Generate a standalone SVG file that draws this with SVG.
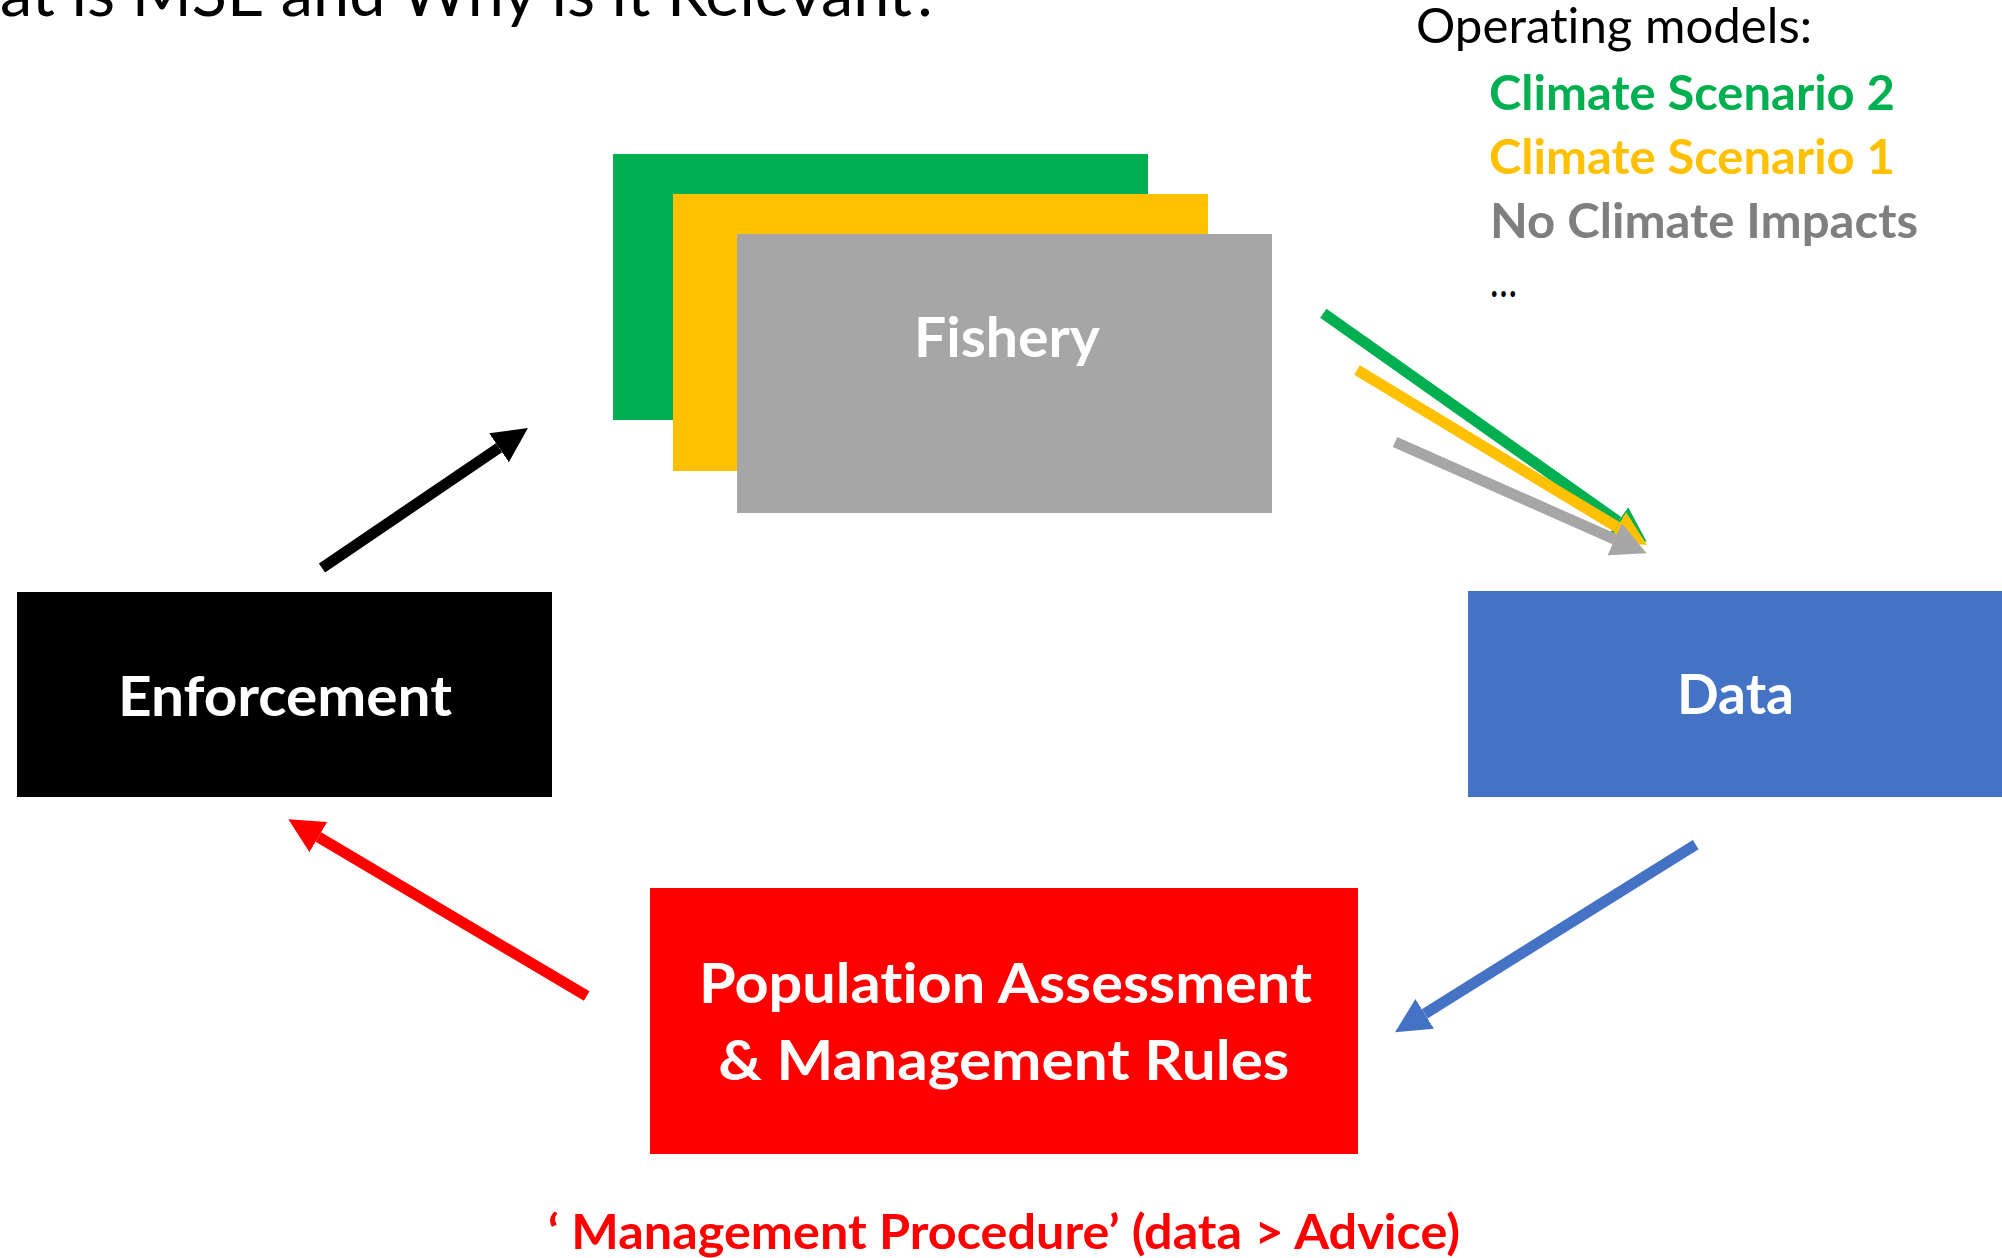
<svg xmlns="http://www.w3.org/2000/svg" width="2002" height="1258" viewBox="0 0 2002 1258">
<style>
text{font-variant-ligatures:none;font-feature-settings:"liga" 0,"clig" 0;}
.lbl{font-family:Lato,"Open Sans","Liberation Sans",sans-serif;font-weight:bold;}
.reg{font-family:Lato,"Open Sans","Liberation Sans",sans-serif;font-weight:normal;}
.box{font-size:56px;fill:#ffffff;text-anchor:middle;}
.leg{font-size:48px;}
.conn{fill:none;stroke-width:11;stroke-linecap:butt;}
</style>
<defs>
<marker id="hBlack" markerUnits="userSpaceOnUse" markerWidth="35" markerHeight="35" viewBox="0 0 35 35" refX="0" refY="17.5" orient="auto"><path d="M0,0 L35,17.5 L0,35 z" fill="#000000"/></marker>
<marker id="hGreen" markerUnits="userSpaceOnUse" markerWidth="35" markerHeight="35" viewBox="0 0 35 35" refX="0" refY="17.5" orient="auto"><path d="M0,0 L35,17.5 L0,35 z" fill="#00B050"/></marker>
<marker id="hYellow" markerUnits="userSpaceOnUse" markerWidth="35" markerHeight="35" viewBox="0 0 35 35" refX="0" refY="17.5" orient="auto"><path d="M0,0 L35,17.5 L0,35 z" fill="#FFC000"/></marker>
<marker id="hGray" markerUnits="userSpaceOnUse" markerWidth="35" markerHeight="35" viewBox="0 0 35 35" refX="0" refY="17.5" orient="auto"><path d="M0,0 L35,17.5 L0,35 z" fill="#A6A6A6"/></marker>
<marker id="hBlue" markerUnits="userSpaceOnUse" markerWidth="35" markerHeight="35" viewBox="0 0 35 35" refX="0" refY="17.5" orient="auto"><path d="M0,0 L35,17.5 L0,35 z" fill="#4472C4"/></marker>
<marker id="hRed" markerUnits="userSpaceOnUse" markerWidth="35" markerHeight="35" viewBox="0 0 35 35" refX="0" refY="17.5" orient="auto"><path d="M0,0 L35,17.5 L0,35 z" fill="#FF0000"/></marker>
</defs>
<rect width="2002" height="1258" fill="#ffffff"/>
<g id="title">
<text class="reg" x="0" y="16" font-size="63" fill="#000000" textLength="941" lengthAdjust="spacingAndGlyphs">at is MSE and Why is it Relevant?</text>
</g>
<g id="legend">
<text class="reg leg" x="1416" y="43" fill="#000000" textLength="396" lengthAdjust="spacingAndGlyphs">Operating models:</text>
<text class="lbl leg" x="1489" y="110" fill="#00B050" textLength="406" lengthAdjust="spacingAndGlyphs">Climate Scenario 2</text>
<text class="lbl leg" x="1489" y="174" fill="#FFC000" textLength="406" lengthAdjust="spacingAndGlyphs">Climate Scenario 1</text>
<text class="lbl leg" x="1490" y="238" fill="#7F7F7F" textLength="428" lengthAdjust="spacingAndGlyphs">No Climate Impacts</text>
<text class="reg leg" x="1490" y="297" fill="#000000" textLength="27" lengthAdjust="spacingAndGlyphs">…</text>
</g>
<g id="fishery">
<rect x="613" y="154" width="535" height="266" fill="#00B050"/>
<rect x="673" y="194" width="535" height="277" fill="#FFC000"/>
<rect x="737" y="234" width="535" height="279" fill="#A6A6A6"/>
<text class="lbl box" x="1007" y="357" textLength="186" lengthAdjust="spacingAndGlyphs">Fishery</text>
</g>
<g id="enforcement">
<rect x="17" y="592" width="535" height="205" fill="#000000"/>
<text class="lbl box" x="285" y="716" textLength="334" lengthAdjust="spacingAndGlyphs">Enforcement</text>
</g>
<g id="data">
<rect x="1468" y="591" width="534" height="206" fill="#4472C4"/>
<text class="lbl box" x="1735.5" y="714" textLength="117" lengthAdjust="spacingAndGlyphs">Data</text>
</g>
<g id="assessment">
<rect x="650" y="888" width="708" height="266" fill="#FF0000"/>
<text class="lbl box" x="1005.5" y="1003" textLength="613" lengthAdjust="spacingAndGlyphs">Population Assessment</text>
<text class="lbl box" x="1003.8" y="1080" textLength="571" lengthAdjust="spacingAndGlyphs">&amp; Management Rules</text>
</g>
<g id="procedure-label">
<text class="lbl" x="548" y="1249" font-size="48" fill="#FF0000" textLength="912" lengthAdjust="spacingAndGlyphs">‘ Management Procedure’ (data &gt; Advice)</text>
</g>
<g id="connectors">
<line class="conn" x1="322" y1="568" x2="499" y2="447.7" stroke="#000000" marker-end="url(#hBlack)"/>
<line class="conn" x1="1323.3" y1="313.3" x2="1618.1" y2="521.5" stroke="#00B050" marker-end="url(#hGreen)"/>
<line class="conn" x1="1357" y1="370" x2="1617" y2="527" stroke="#FFC000" marker-end="url(#hYellow)"/>
<line class="conn" x1="1395" y1="442" x2="1614.7" y2="539.2" stroke="#A6A6A6" marker-end="url(#hGray)"/>
<line class="conn" x1="1695.7" y1="844.7" x2="1424.7" y2="1013.8" stroke="#4472C4" marker-end="url(#hBlue)"/>
<line class="conn" x1="586.7" y1="996" x2="318.4" y2="837.1" stroke="#FF0000" marker-end="url(#hRed)"/>
</g>
</svg>
